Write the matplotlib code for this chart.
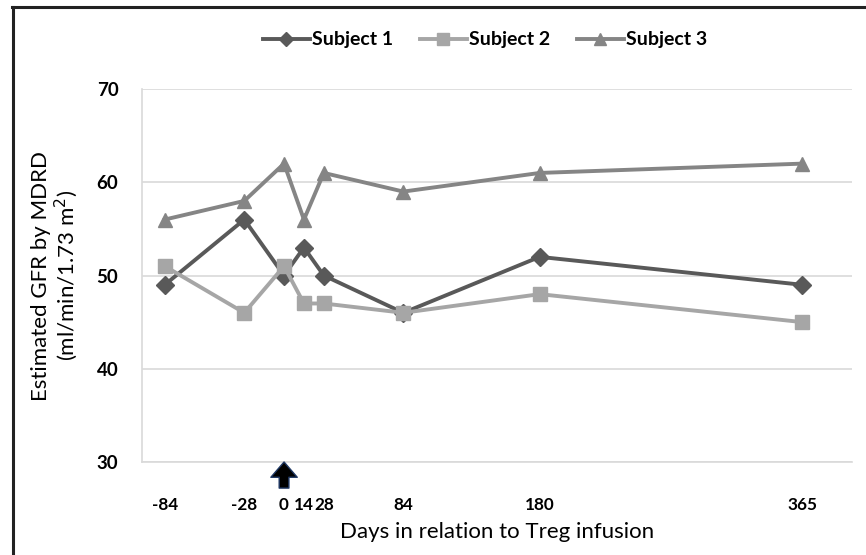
import matplotlib.pyplot as plt
from matplotlib.lines import Line2D

plt.rcParams['font.family'] = ['Lato', 'DejaVu Sans']

days = [-84, -28, 0, 14, 28, 84, 180, 365]
subject1 = [49, 56, 50, 53, 50, 46, 52, 49]
subject2 = [51, 46, 51, 47, 47, 46, 48, 45]
subject3 = [56, 58, 62, 56, 61, 59, 61, 62]
yticks = [30, 40, 50, 60, 70]

fig = plt.figure(figsize=(8.66, 5.55), dpi=100)
ax = fig.add_axes([0.164, 0.1676, 0.82, 0.672])

ax.plot(days, subject1, color='#595959', lw=2.8, marker='D', ms=9, label='Subject 1', zorder=3)
ax.plot(days, subject2, color='#a6a6a6', lw=2.8, marker='s', ms=10.5, label='Subject 2', zorder=3)
ax.plot(days, subject3, color='#858585', lw=2.8, marker='^', ms=10.5, label='Subject 3', zorder=3)

ax.set_xlim(-100, 400)
ax.set_ylim(30, 70)
ax.set_xticks(days)
ax.set_xticklabels([str(d) for d in days], fontweight='bold', fontsize=12.3)
ax.set_yticks(yticks)
ax.set_yticklabels([str(t) for t in yticks], fontweight='bold', fontsize=13.5)
ax.tick_params(axis='x', length=0, pad=25)
ax.tick_params(axis='y', length=0, pad=17)

ax.grid(axis='y', color='#d9d9d9', lw=1.2)
ax.set_axisbelow(True)
for s in ['top', 'right']:
    ax.spines[s].set_visible(False)
for s in ['left', 'bottom']:
    ax.spines[s].set_color('#d9d9d9')
    ax.spines[s].set_linewidth(1.2)

ax.set_xlabel('Days in relation to Treg infusion', fontsize=16, labelpad=7)
ax.set_ylabel('Estimated GFR by MDRD\n(ml/min/1.73 m$^2$)', fontsize=16, labelpad=12,
              linespacing=1.05)

# infusion marker at day 0
ax.annotate('', xy=(0, 0.0), xytext=(0, -0.07),
            xycoords=('data', 'axes fraction'), textcoords=('data', 'axes fraction'),
            arrowprops=dict(width=7, headwidth=19, headlength=11,
                            facecolor='black', edgecolor='#1f3864', lw=1),
            annotation_clip=False)

handles = [Line2D([], [], color='#595959', lw=2.8, marker='D', ms=7),
           Line2D([], [], color='#a6a6a6', lw=2.8, marker='s', ms=8),
           Line2D([], [], color='#858585', lw=2.8, marker='^', ms=8)]
fig.legend(handles, ['Subject 1', 'Subject 2', 'Subject 3'], loc='center',
           bbox_to_anchor=(0.56, 0.928), ncol=3, frameon=False,
           prop={'weight': 'bold', 'size': 14}, handlelength=2.4,
           handletextpad=0.1, columnspacing=1.4)

# page frame on the left and top
fig.add_artist(Line2D([0.0145, 0.0145], [0, 0.988], color='#222222', lw=2.2))
fig.add_artist(Line2D([0.0135, 1.0], [0.988, 0.988], color='#222222', lw=2.2))

fig.savefig('out.png', dpi=100)
